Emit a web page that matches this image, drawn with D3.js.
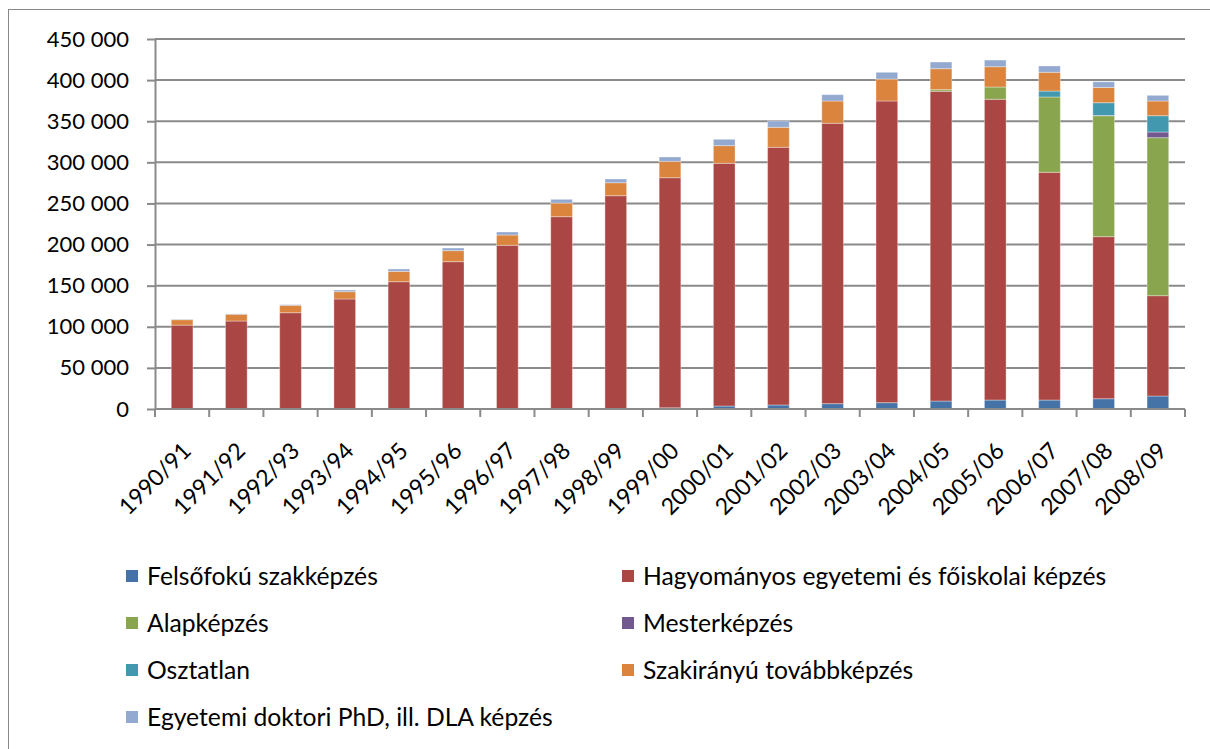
<!DOCTYPE html>
<html>
<head>
<meta charset="utf-8">
<script src="https://cdn.jsdelivr.net/npm/d3@7"></script>
<style>
  html, body { margin: 0; padding: 0; background: #fff; }
  svg { display: block; }
  text { font-family: Lato, "Open Sans", sans-serif; fill: #000; }
</style>
</head>
<body>
<svg id="chart" width="1210" height="749"></svg>
<script>
const years = ["1990/91","1991/92","1992/93","1993/94","1994/95","1995/96","1996/97","1997/98","1998/99","1999/00","2000/01","2001/02","2002/03","2003/04","2004/05","2005/06","2006/07","2007/08","2008/09"];

const seriesNames = ["Felsőfokú szakképzés","Hagyományos egyetemi és főiskolai képzés","Alapképzés","Mesterképzés","Osztatlan","Szakirányú továbbképzés","Egyetemi doktori PhD, ill. DLA képzés"];

const felsofoku   = [0,0,0,0,0,0,0,0,300,1500,3600,4900,6500,7700,9700,10900,10900,12500,15800];
const hagyomanyos = [102000,107000,117100,133800,154800,179200,199100,233900,259100,279800,295200,313400,341000,366900,376700,365800,277000,197100,122000];
const alapkepzes  = [0,0,0,0,0,0,0,0,0,0,0,0,0,0,2000,14900,91600,147100,192200];
const mesterkepzes= [0,0,0,0,0,0,0,0,0,0,0,0,0,0,0,0,0,300,6900];
const osztatlan   = [0,0,0,0,0,0,0,0,0,0,0,0,0,0,0,0,7200,15500,19800];
const szakiranyu  = [6600,8200,9000,8900,12600,13400,12500,16600,15800,19900,21500,24300,27100,26700,25500,24700,22800,18600,17900];
const doktori     = [500,500,800,2000,2900,3200,3700,4500,4500,5300,7700,7700,7700,8200,8100,8100,7700,6900,6900];

const yTicks = [0,50000,100000,150000,200000,250000,300000,350000,400000,450000];

const colors = ["#4572A7","#AA4643","#89A54E","#71588F","#4198AF","#DB843D","#93A9CF"];

const seriesValues = [felsofoku, hagyomanyos, alapkepzes, mesterkepzes, osztatlan, szakiranyu, doktori];
const table = years.map((y, i) => {
  const row = { year: y };
  seriesNames.forEach((s, k) => row[s] = seriesValues[k][i]);
  return row;
});

const svg = d3.select("#chart");

// outer frame
svg.append("rect")
  .attr("x", 8.5).attr("y", 9.5)
  .attr("width", 1400).attr("height", 1000)
  .attr("fill", "none").attr("stroke", "#878787").attr("stroke-width", 1);

const x = d3.scaleBand().domain(years).range([155, 1185]).paddingInner(0.6).paddingOuter(0.3);
const y = d3.scaleLinear().domain([0, 450000]).range([409, 39]);

// gridlines
svg.append("g").selectAll("line")
  .data(yTicks.filter(d => d > 0))
  .join("line")
  .attr("x1", 155).attr("x2", 1185)
  .attr("y1", d => y(d)).attr("y2", d => y(d))
  .attr("stroke", "#8a8a8a").attr("stroke-width", 2);

// stacked bars
const stack = d3.stack().keys(seriesNames);
const stacked = stack(table);

svg.append("g").selectAll("g")
  .data(stacked)
  .join("g")
  .attr("fill", (d, i) => colors[i])
  .selectAll("rect")
  .data(d => d.filter(p => p[1] - p[0] > 0))
  .join("rect")
  .attr("x", d => x(d.data.year))
  .attr("width", x.bandwidth())
  .attr("y", d => y(d[1]))
  .attr("height", d => y(d[0]) - y(d[1]))
  .attr("stroke", "#ffffff").attr("stroke-opacity", 0.35).attr("stroke-width", 1);

// y axis
const fmt = d => d3.format(",")(d).replace(/,/g, " ");
const yAxis = svg.append("g")
  .attr("transform", "translate(155,0)")
  .call(d3.axisLeft(y).tickValues(yTicks).tickFormat(fmt).tickSize(8).tickPadding(18).tickSizeOuter(0));
yAxis.select(".domain").attr("stroke", "#8a8a8a").attr("stroke-width", 2);
yAxis.selectAll(".tick line").attr("stroke", "#8a8a8a").attr("stroke-width", 2);
yAxis.selectAll("text").style("font-size", "22px").attr("fill", "#000");

// x axis line
svg.append("line")
  .attr("x1", 155).attr("x2", 1185).attr("y1", y(0)).attr("y2", y(0))
  .attr("stroke", "#8a8a8a").attr("stroke-width", 2);

// x tick marks between categories
const step = x.step();
const boundaries = years.map(c => x(c) - (step - x.bandwidth()) / 2).concat([x(years[years.length - 1]) + x.bandwidth() + (step - x.bandwidth()) / 2]);
svg.append("g").selectAll("line")
  .data(boundaries)
  .join("line")
  .attr("x1", d => d).attr("x2", d => d)
  .attr("y1", y(0)).attr("y2", y(0) + 8)
  .attr("stroke", "#8a8a8a").attr("stroke-width", 2);

// x labels
svg.append("g").selectAll("text")
  .data(years)
  .join("text")
  .attr("transform", d => `translate(${x(d) + x.bandwidth() / 2 - 1},${y(0) + 32}) rotate(-45)`)
  .attr("text-anchor", "end")
  .attr("dy", "0.7em")
  .style("font-size", "23px")
  .text(d => d);

// legend
const legendPos = [
  [126, 576], [622, 576],
  [126, 623], [622, 623],
  [126, 670], [622, 670],
  [126, 717]
];
const lg = svg.append("g").selectAll("g")
  .data(seriesNames)
  .join("g")
  .attr("transform", (d, i) => `translate(${legendPos[i][0]},${legendPos[i][1]})`);
lg.append("rect").attr("x", 0).attr("y", -6).attr("width", 12).attr("height", 12)
  .attr("fill", (d, i) => colors[i]);
lg.append("text").attr("x", 21).attr("y", 0).attr("dy", "0.35em")
  .style("font-size", "24.7px")
  .text(d => d);
</script>
</body>
</html>
